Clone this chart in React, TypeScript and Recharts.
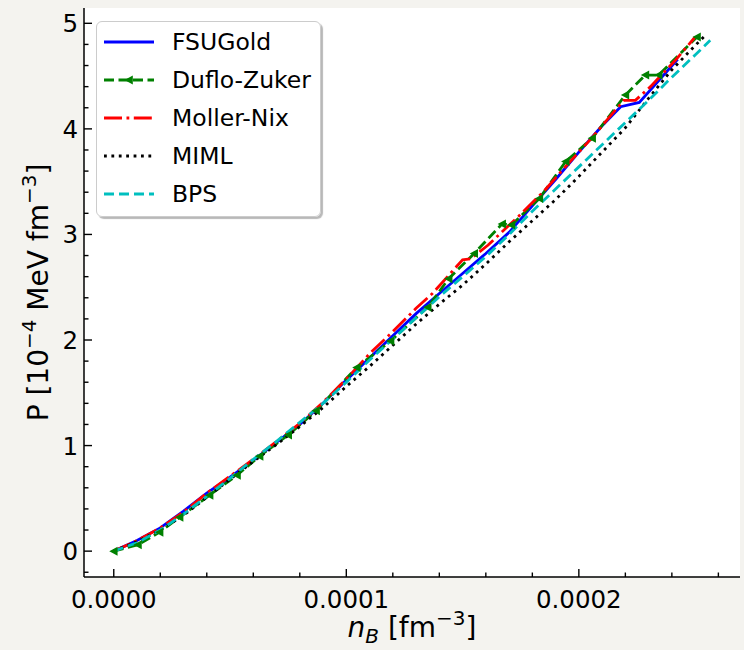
import React from 'react'
import { LineChart, Line, XAxis, YAxis, CartesianGrid, Legend } from 'recharts'

const FONT = '"DejaVu Sans", Verdana, sans-serif'
const BG = '#f4f3ef'

// n_B in units of 1e-5 fm^-3, P in units of 1e-4 MeV fm^-3
const fsuGoldN = [0, 1, 2, 3, 4, 5, 6, 7, 8, 9, 10, 11, 12, 13, 14, 15, 16, 17, 18, 19, 20, 21, 21.8, 22.6, 24.25]
const fsuGoldP = [0, 0.10, 0.22, 0.38, 0.55, 0.70, 0.86, 1.03, 1.20, 1.40, 1.62, 1.83, 2.04, 2.25, 2.44, 2.63, 2.82, 3.02, 3.27, 3.52, 3.78, 4.03, 4.21, 4.25, 4.66]

const dufloN = [0, 1.04, 1.97, 2.83, 4.12, 5.3, 6.27, 7.5, 8.7, 10.45, 11.9, 13.5, 14.4, 15.5, 16.7, 17.1, 18.3, 19.43, 20.57, 22.0, 22.86, 23.43, 25.08]
const dufloP = [0, 0.06, 0.18, 0.32, 0.53, 0.72, 0.90, 1.10, 1.33, 1.74, 1.99, 2.31, 2.58, 2.82, 3.10, 3.09, 3.34, 3.69, 3.91, 4.32, 4.51, 4.51, 4.87]

const mollerN = [0, 1, 2, 3, 4, 5, 6, 7, 8, 9, 10, 11, 12, 13, 13.7, 15.0, 15.35, 16.1, 17.4, 18.5, 19.5, 20.5, 21.93, 22.43, 23.08, 24.15, 25.0]
const mollerP = [0, 0.10, 0.22, 0.37, 0.55, 0.71, 0.87, 1.04, 1.21, 1.41, 1.63, 1.87, 2.08, 2.30, 2.44, 2.76, 2.77, 2.90, 3.17, 3.41, 3.66, 3.90, 4.27, 4.27, 4.40, 4.65, 4.87]

const mimlN = [0, 1, 2, 3, 4, 5, 6, 7, 8, 9, 10, 11, 12, 13, 14, 15, 16, 17, 18, 19, 20, 21, 22, 23, 24, 25, 25.5]
const mimlP = [0, 0.09, 0.20, 0.34, 0.51, 0.68, 0.85, 1.01, 1.18, 1.36, 1.56, 1.75, 1.95, 2.15, 2.34, 2.52, 2.72, 2.93, 3.13, 3.33, 3.55, 3.78, 4.01, 4.29, 4.56, 4.79, 4.90]

const bpsN = [0, 1, 2, 3, 4, 5, 6, 7, 8, 9, 10, 11, 12, 13, 14, 15, 16, 17, 18, 19, 20, 21, 22, 23, 24, 25, 25.65]
const bpsP = [0, 0.08, 0.20, 0.35, 0.52, 0.69, 0.87, 1.04, 1.22, 1.40, 1.60, 1.81, 2.01, 2.21, 2.41, 2.60, 2.79, 3.00, 3.22, 3.43, 3.64, 3.85, 4.06, 4.27, 4.49, 4.70, 4.84]

const xTicks = [0, 2, 4, 6, 8, 10, 12, 14, 16, 18, 20, 22, 24, 26]
const xMajor = [0, 10, 20]
const yTicks = [-0.2, 0, 0.2, 0.4, 0.6, 0.8, 1, 1.2, 1.4, 1.6, 1.8, 2, 2.2, 2.4, 2.6, 2.8, 3, 3.2, 3.4, 3.6, 3.8, 4, 4.2, 4.4, 4.6, 4.8, 5]
const X_DOMAIN: [number, number] = [-1.28, 26.93]
const Y_DOMAIN: [number, number] = [-0.245, 5.145]

const LW = 2.8
const TICK_FS = 24.5
const LABEL_FS = 28

const series = [
  { name: 'FSUGold', n: fsuGoldN, p: fsuGoldP, color: '#0000ff', dash: undefined, marker: false },
  { name: 'Duflo-Zuker', n: dufloN, p: dufloP, color: '#008000', dash: '10 4.5', marker: true },
  { name: 'Moller-Nix', n: mollerN, p: mollerP, color: '#ff0000', dash: '18 4.5 2.8 4.5', marker: false },
  { name: 'MIML', n: mimlN, p: mimlP, color: '#000000', dash: '2.8 4.6', marker: false },
  { name: 'BPS', n: bpsN, p: bpsP, color: '#00bfbf', dash: '10 5', marker: false },
]

function toPoints(n: number[], p: number[]) {
  return n.map((x, i) => ({ x, y: p[i] }))
}

function fmtX(v: number) {
  return (v * 1e-5).toFixed(4)
}

function triPoints(cx: number, cy: number, r: number) {
  return `${cx - r},${cy} ${cx + r * 0.85},${cy - r} ${cx + r * 0.85},${cy + r}`
}

// eslint-disable-next-line @typescript-eslint/no-explicit-any
function XTick({ x, y, payload }: any) {
  const major = xMajor.includes(payload.value)
  return (
    <g>
      <line x1={x} x2={x} y1={y} y2={y - (major ? 8 : 4.5)} stroke="#000" strokeWidth={1.4} />
      {major && (
        <text x={x} y={y + 31} textAnchor="middle" fontSize={TICK_FS} fontFamily={FONT} fill="#000">
          {fmtX(payload.value)}
        </text>
      )}
    </g>
  )
}

// eslint-disable-next-line @typescript-eslint/no-explicit-any
function YTick({ x, y, payload }: any) {
  const major = Number.isInteger(payload.value)
  return (
    <g>
      <line x1={x} x2={x + (major ? 8 : 4.5)} y1={y} y2={y} stroke="#000" strokeWidth={1.4} />
      {major && (
        <text x={x - 6} y={y + 9} textAnchor="end" fontSize={TICK_FS} fontFamily={FONT} fill="#000">
          {payload.value}
        </text>
      )}
    </g>
  )
}

// eslint-disable-next-line @typescript-eslint/no-explicit-any
function XLabel({ viewBox }: any) {
  const cx = viewBox.x + viewBox.width / 2
  const y = viewBox.y + 60
  return (
    <text x={cx} y={y} textAnchor="middle" fontSize={LABEL_FS} fontFamily={FONT} fill="#000">
      <tspan fontStyle="italic">n</tspan>
      <tspan fontStyle="italic" fontSize={20} dy={6}>B</tspan>
      <tspan dy={-6}> [fm</tspan>
      <tspan fontSize={20} dy={-12}>−3</tspan>
      <tspan dy={12}>]</tspan>
    </text>
  )
}

// eslint-disable-next-line @typescript-eslint/no-explicit-any
function YLabel({ viewBox }: any) {
  const x = viewBox.x + 48
  const cy = viewBox.y + viewBox.height / 2
  return (
    <text x={x} y={cy} transform={`rotate(-90 ${x} ${cy})`} textAnchor="middle" fontSize={LABEL_FS} fontFamily={FONT} fill="#000">
      <tspan>P [10</tspan>
      <tspan fontSize={20} dy={-12}>−4</tspan>
      <tspan dy={12}> MeV fm</tspan>
      <tspan fontSize={20} dy={-12}>−3</tspan>
      <tspan dy={12}>]</tspan>
    </text>
  )
}

function LegendBox() {
  return (
    <div
      style={{
        position: 'relative',
        width: 225,
        height: 196,
        boxSizing: 'border-box',
        background: 'rgba(255,255,255,0.9)',
        border: '1px solid #cccccc',
        borderRadius: 6,
        boxShadow: '2px 2px 1px rgba(0,0,0,0.28)',
        fontFamily: FONT,
        fontSize: 23.5,
        color: '#000',
      }}
    >
      {series.map((s, i) => (
        <div key={s.name} style={{ position: 'absolute', left: 0, top: 6 + i * 37.9, height: 28, width: '100%' }}>
          <svg width={60} height={28} style={{ position: 'absolute', left: 6, top: 0 }}>
            <line x1={1} x2={51} y1={14} y2={14} stroke={s.color} strokeWidth={LW} strokeDasharray={s.dash} />
            {s.marker && <polygon points={triPoints(26, 14, 4.5)} fill={s.color} />}
          </svg>
          <span style={{ position: 'absolute', left: 75, top: 0, lineHeight: '28px', whiteSpace: 'nowrap' }}>{s.name}</span>
        </div>
      ))}
    </div>
  )
}

export default function App() {
  return (
    <div style={{ position: 'absolute', left: 0, top: 0, width: 744, height: 650, background: BG }}>
      <LineChart width={744} height={650} margin={{ top: 8, right: 4, bottom: 0, left: 0 }}>
        <CartesianGrid horizontal={false} vertical={false} fill="#ffffff" />
        <XAxis
          dataKey="x"
          type="number"
          domain={X_DOMAIN}
          ticks={xTicks}
          interval={0}
          height={73}
          tickSize={0}
          tickMargin={0}
          tickLine={false}
          tick={<XTick />}
          axisLine={{ stroke: '#000', strokeWidth: 1.5 }}
          allowDataOverflow
          label={{ content: (p: any) => <XLabel viewBox={p.viewBox} /> }}
        />
        <YAxis
          type="number"
          domain={Y_DOMAIN}
          ticks={yTicks}
          interval={0}
          width={84}
          tickSize={0}
          tickMargin={0}
          tickLine={false}
          tick={<YTick />}
          axisLine={{ stroke: '#000', strokeWidth: 1.5 }}
          allowDataOverflow
          label={{ content: (p: any) => <YLabel viewBox={p.viewBox} /> }}
        />
        <XAxis xAxisId="top" orientation="top" type="number" domain={X_DOMAIN} height={0} tick={false} tickLine={false} axisLine={{ stroke: '#000', strokeWidth: 1.5 }} />
        <YAxis yAxisId="right" orientation="right" type="number" domain={Y_DOMAIN} width={0} tick={false} tickLine={false} axisLine={{ stroke: '#000', strokeWidth: 1.5 }} />
        <Legend
          layout="horizontal"
          verticalAlign="middle"
          align="center"
          wrapperStyle={{ left: 96, top: 21, width: 225, height: 196 }}
          content={() => <LegendBox />}
        />
        {series.map((s) => (
          <Line
            key={s.name}
            name={s.name}
            data={toPoints(s.n, s.p)}
            dataKey="y"
            type="linear"
            stroke={s.color}
            strokeWidth={LW}
            strokeDasharray={s.dash}
            isAnimationActive={false}
            activeDot={false}
            dot={
              s.marker
                ? // eslint-disable-next-line @typescript-eslint/no-explicit-any
                  (d: any) => <polygon key={`m-${d.index}`} points={triPoints(d.cx, d.cy, 4.5)} fill={s.color} />
                : false
            }
          />
        ))}
      </LineChart>
    </div>
  )
}
